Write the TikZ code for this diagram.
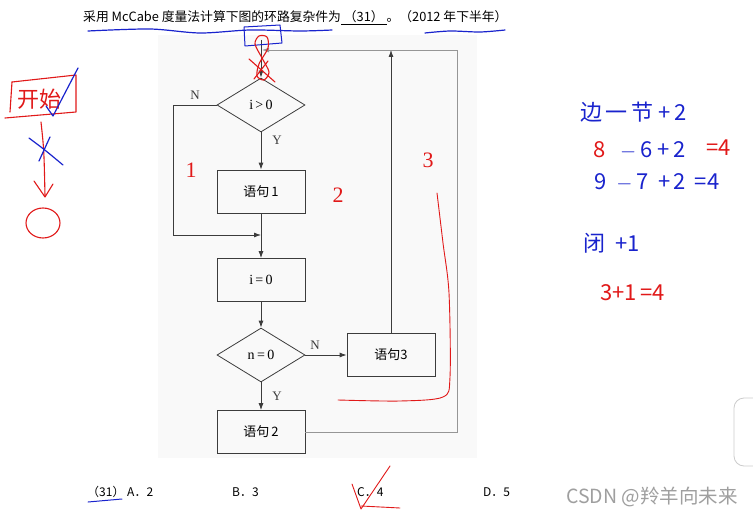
\documentclass[tikz,border=0pt]{standalone}
\usepackage{fontspec}
\setmainfont{Liberation Serif}
\newfontfamily\cjk{Noto Sans CJK SC}
\usepackage{xcolor}
\usetikzlibrary{arrows.meta,positioning,calc,shapes.geometric}
\definecolor{inkblue}{RGB}{25,35,205}
\definecolor{inkred}{RGB}{225,25,25}
\definecolor{flowgray}{RGB}{60,60,60}
\definecolor{loopgray}{RGB}{150,150,150}
\definecolor{pagegray}{RGB}{249,249,249}
\tikzset{
  stepbox/.style={rectangle,draw=flowgray,line width=.8pt,minimum width=88pt,
    minimum height=43pt,inner sep=0pt,font=\cjk\fontsize{13}{13}\selectfont},
  decidebox/.style={diamond,draw=flowgray,line width=.8pt,minimum width=88pt,
    minimum height=54pt,inner sep=0pt,font=\fontsize{14}{14}\selectfont},
  farrow/.style={-{Latex[length=7pt,width=5pt]},draw=flowgray,line width=.8pt}
}

\begin{document}
\begin{tikzpicture}[
  x=1pt,
  y=-1pt,
  flabel/.style={font=\fontsize{13}{13}\selectfont,text=flowgray,inner sep=0pt},
  optlabel/.style={anchor=west,inner sep=0pt,font=\cjk\fontsize{12}{12}\selectfont},
  looparrow/.style={
    -{Latex[length=7pt,width=5pt]},
    draw=loopgray,
    line width=.8pt
  },
  redink/.style={draw=inkred,line width=1.1pt,line cap=round,line join=round},
  blueink/.style={draw=inkblue,line width=1.2pt,line cap=round,line join=round},
  handtext/.style={inner sep=0pt,font=\cjk\fontsize{22}{22}\selectfont}
]

  % --------------------------------------------------------------
  % Page and the grey area of the scanned figure.
  % --------------------------------------------------------------
  \useasboundingbox[fill=white] (0,0) rectangle (753,519);
  \fill[pagegray] (158,35) rectangle (477,458);
  \draw[gray!40,line width=.8pt,rounded corners=10pt] (734,398) rectangle (770,466);

  % --------------------------------------------------------------
  % Question text.
  % --------------------------------------------------------------
  \node[anchor=west,inner sep=0pt,font=\cjk\fontsize{12.8}{13}\selectfont] (title) at (83,18)
    {采用 McCabe 度量法计算下图的环路复杂件为\underline{\ （31）\ }。（2012 年下半年）};

  \node[optlabel] (optA) at (87,492) {（31） A．2};
  \node[optlabel] (optB) at (232,492) {B．3};
  \node[optlabel] (optC) at (357,492) {C．4};
  \node[optlabel] (optD) at (483,492) {D．5};
  \node[anchor=west,inner sep=0pt,text=gray!75,font=\cjk\fontsize{19.5}{20}\selectfont] (mark) at (566,497)
    {CSDN @羚羊向未来};

  % --------------------------------------------------------------
  % The flow chart.
  % --------------------------------------------------------------
  \node[decidebox] (testI) at (261,105) {i\,>\,0};
  \node[stepbox] (stmtA) at (261,191.5) {语句\,1};
  \node[stepbox,font=\fontsize{14}{14}\selectfont] (setI) at (261,280) {i\,=\,0};
  \node[decidebox] (testN) at (261,355) {n\,=\,0};
  \node[stepbox] (stmtC) at (391,355) {语句3};
  \node[stepbox] (stmtB) at (261,432) {语句\,2};

  \coordinate (entry)  at (261,40);
  \coordinate (leftUp) at (173,105);
  \coordinate (leftDn) at (173,235);
  \coordinate (joinA)  at (261,235);
  \coordinate (joinT)  at (262,50);
  \coordinate (upC)    at (391,50);
  \coordinate (loopDn) at (457,432);
  \coordinate (loopUp) at (457,50);

  \draw[farrow] (entry) -- (testI.north);
  \draw[farrow] (testI.south) -- (stmtA.north);
  \draw[farrow] (stmtA.south) -- (setI.north);
  \draw[farrow] (testI.west) -- (leftUp) -- (leftDn) -- (joinA);
  \draw[farrow] (setI.south) -- (testN.north);
  \draw[farrow] (testN.south) -- (stmtB.north);
  \draw[farrow] (testN.east) -- (stmtC.west);
  \draw[farrow] (stmtC.north) -- (upC);
  \draw[looparrow] (stmtB.east) -- (loopDn) -- (loopUp) -- (joinT);

  \node[flabel] (nA) at (195,95)  {N};
  \node[flabel] (yA) at (277,140) {Y};
  \node[flabel] (nB) at (315,345) {N};
  \node[flabel] (yB) at (277,396) {Y};

  % --------------------------------------------------------------
  % Handwritten notes.
  % --------------------------------------------------------------
  \draw[blueink] plot[smooth] coordinates {(88,31) (150,29) (200,33) (250,30) (300,31) (332,30)};
  \draw[blueink] plot[smooth] coordinates {(425,33) (450,31) (480,32) (505,30)};
  \draw[blueink,line width=1pt] (244,27) -- (280,25) -- (282,43) -- (245,46) -- cycle;
  \draw[redink] plot[smooth cycle] coordinates {(262,58) (255,44) (259,36) (267,37) (268,48) (259,64) (257,76) (264,80) (269,72)};
  \draw[redink] (249,59) -- (275,82);
  \draw[redink] (254,79) -- (268,61);

  \node[handtext,text=inkred,font=\fontsize{22}{22}\selectfont] (one)   at (191,170) {1};
  \node[handtext,text=inkred,font=\fontsize{22}{22}\selectfont] (two)   at (338,195) {2};
  \node[handtext,text=inkred,font=\fontsize{22}{22}\selectfont] (three) at (428,160) {3};
  \draw[redink,line width=.9pt] plot[smooth] coordinates
    {(437,193) (443,243) (449,293) (450,377) (443,397) (400,401) (338,400)};

  % left column
  \draw[redink] (12,82) -- (76,75) -- (76,112) -- (5,118);
  \draw[redink] (12,82) -- (10,112);
  \node[handtext,text=inkred] (begin) at (39,99) {开始};
  \draw[blueink] (46,106) -- (53,116) -- (78,68);
  \draw[redink] (41,122) .. controls (44,150) .. (45,196);
  \draw[redink] (34,181) -- (45,197) -- (53,184);
  \draw[blueink] (29,138) .. controls (45,150) .. (63,165);
  \draw[blueink] (50,137) -- (39,161);
  \draw[redink] (43,223) ellipse [x radius=17,y radius=15];

  % right column
  \node[handtext,anchor=west,text=inkblue] (rule) at (580,112) {边\,一\,节\ +\,2};
  \node[handtext,anchor=west,text=inkred]  (eA)   at (593,150) {8};
  \node[handtext,anchor=west,text=inkblue] (eAm)  at (620,150) {$-$\,6\ +\,2};
  \node[handtext,anchor=west,text=inkred]  (eAr)  at (706,148) {=4};
  \node[handtext,anchor=west,text=inkblue] (eB)   at (594,182) {9\ \ $-$\,7\ \ +\,2\ \,=4};
  \node[handtext,anchor=west,text=inkblue] (ruleB) at (583,243) {闭\ \ +1};
  \node[handtext,anchor=west,text=inkred]  (eC)   at (600,293) {3+1\,=4};

  % bottom marks
  \draw[blueink,line width=1pt] (88,502) -- (122,499);
  \draw[redink,line width=.9pt] (352,484) -- (361,509) -- (390,466);
  \draw[redink,line width=.9pt] (361,506) -- (400,508);

\end{tikzpicture}
\end{document}
